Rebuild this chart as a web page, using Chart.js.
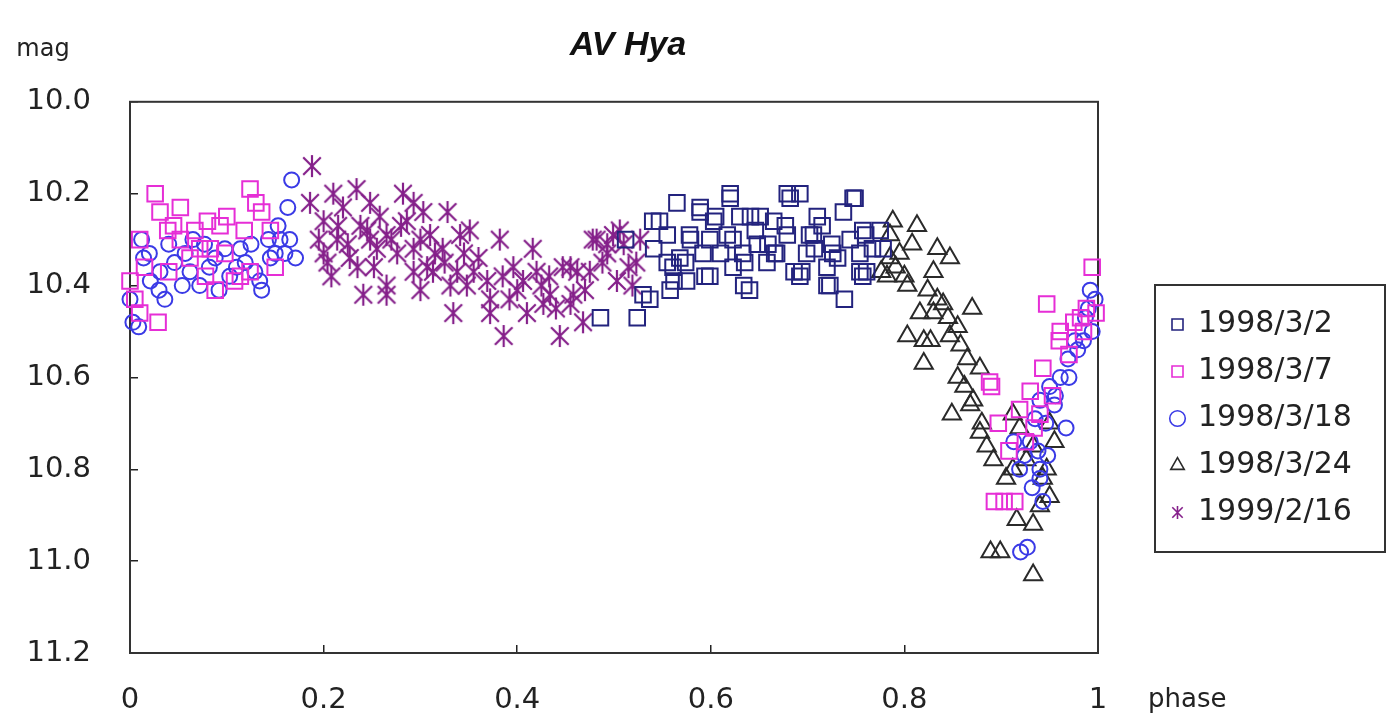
<!DOCTYPE html>
<html lang="ja">
<head>
<meta charset="UTF-8">
<title>AV Hya</title>
<script src="https://cdn.jsdelivr.net/npm/chart.js"></script>
<style>
  body { margin: 0; background: #fff; }
  canvas { display: block; }
</style>
</head>
<body>
<canvas id="lc" width="1397" height="725"></canvas>
<script>
// 凡例と目盛
const seriesNames = ["1998/3/2", "1998/3/7", "1998/3/18", "1998/3/24", "1999/2/16"];
const xTickValues = [0, 0.2, 0.4, 0.6, 0.8, 1];
const xTickLabels = ["0", "0.2", "0.4", "0.6", "0.8", "1"];
const yTickValues = [10.0, 10.2, 10.4, 10.6, 10.8, 11.0, 11.2];
const yTickLabels = ["10.0", "10.2", "10.4", "10.6", "10.8", "11.0", "11.2"];

// [phase, mag]
const d19980302 = [
  [0.486,10.47],[0.524,10.47],[0.512,10.30],[0.530,10.42],[0.541,10.32],[0.547,10.26],[0.555,10.35],[0.562,10.39],
  [0.574,10.35],[0.578,10.29],[0.589,10.23],[0.594,10.38],[0.599,10.30],[0.605,10.25],[0.610,10.33],[0.620,10.20],
  [0.623,10.30],[0.630,10.25],[0.635,10.35],[0.640,10.41],[0.646,10.28],[0.651,10.25],[0.659,10.31],[0.666,10.33],
  [0.677,10.27],[0.682,10.21],[0.692,10.20],[0.694,10.37],[0.702,10.29],[0.707,10.32],[0.715,10.27],[0.720,10.40],
  [0.725,10.31],[0.731,10.34],[0.738,10.43],[0.744,10.30],[0.749,10.21],[0.754,10.37],[0.760,10.29],[0.767,10.32],
  [0.775,10.28],[0.757,10.38],[0.565,10.22],[0.620,10.21],[0.679,10.20],[0.747,10.21],[0.540,10.26],[0.589,10.24],
  [0.603,10.26],[0.641,10.25],[0.665,10.26],[0.710,10.25],[0.737,10.24],[0.555,10.29],[0.579,10.30],[0.617,10.29],
  [0.648,10.31],[0.679,10.29],[0.706,10.29],[0.757,10.28],[0.778,10.32],[0.568,10.34],[0.592,10.33],[0.633,10.33],
  [0.668,10.33],[0.699,10.33],[0.726,10.33],[0.754,10.33],[0.561,10.36],[0.599,10.38],[0.623,10.36],[0.658,10.35],
  [0.686,10.37],[0.720,10.36],[0.761,10.37],[0.558,10.41],[0.575,10.39],[0.634,10.40],[0.692,10.38],[0.723,10.40],
  [0.537,10.43]
];
const d19980307 = [
  [0.000,10.39],[0.005,10.43],[0.010,10.30],[0.026,10.20],[0.031,10.24],[0.039,10.28],[0.052,10.30],[0.062,10.34],
  [0.072,10.32],[0.083,10.32],[0.098,10.33],[0.114,10.38],[0.124,10.37],[0.124,10.19],[0.136,10.24],[0.145,10.28],
  [0.150,10.36],[0.029,10.48],[0.010,10.46],[0.088,10.41],[0.108,10.39],[0.045,10.27],[0.067,10.28],[0.093,10.27],
  [0.015,10.36],[0.040,10.37],[0.130,10.22],[0.078,10.38],[0.118,10.28],[0.052,10.23],[0.100,10.25],[0.080,10.26],
  [0.888,10.61],[0.930,10.63],[0.953,10.64],[0.961,10.50],[0.975,10.48],[0.982,10.47],[0.988,10.45],[0.994,10.36],
  [0.947,10.44],[0.897,10.70],[0.893,10.87],[0.903,10.87],[0.914,10.87],[0.919,10.67],[0.934,10.71],[0.960,10.52],
  [0.943,10.58],[0.925,10.74],[0.970,10.55],[0.985,10.50],[0.908,10.76],[0.940,10.68],[0.890,10.62],[0.998,10.46]
];
const d19980318 = [
  [0.000,10.43],[0.003,10.48],[0.009,10.49],[0.012,10.30],[0.014,10.34],[0.021,10.39],[0.031,10.37],[0.036,10.43],
  [0.046,10.35],[0.054,10.40],[0.062,10.37],[0.072,10.40],[0.077,10.31],[0.088,10.34],[0.098,10.32],[0.103,10.38],
  [0.114,10.32],[0.119,10.35],[0.129,10.37],[0.134,10.39],[0.136,10.41],[0.143,10.30],[0.150,10.33],[0.153,10.27],
  [0.155,10.30],[0.163,10.23],[0.167,10.17],[0.165,10.30],[0.171,10.34],[0.160,10.33],[0.040,10.31],[0.065,10.30],
  [0.092,10.41],[0.110,10.36],[0.125,10.31],[0.145,10.34],[0.020,10.33],[0.082,10.36],[0.057,10.33],[0.030,10.41],
  [0.992,10.41],[0.997,10.43],[0.994,10.50],[0.987,10.47],[0.976,10.52],[0.979,10.54],[0.969,10.56],[0.961,10.60],
  [0.950,10.62],[0.956,10.64],[0.940,10.65],[0.935,10.69],[0.946,10.70],[0.967,10.71],[0.948,10.77],[0.930,10.74],
  [0.924,10.77],[0.940,10.82],[0.943,10.87],[0.940,10.80],[0.919,10.80],[0.913,10.74],[0.920,10.98],[0.927,10.97],
  [0.985,10.52],[0.970,10.60],[0.955,10.66],[0.932,10.84],[0.938,10.76],[0.990,10.45]
];
const d19980324 = [
  [0.788,10.26],[0.813,10.27],[0.785,10.29],[0.808,10.31],[0.834,10.32],[0.847,10.34],[0.785,10.34],[0.791,10.36],
  [0.782,10.38],[0.803,10.40],[0.830,10.37],[0.824,10.41],[0.834,10.43],[0.840,10.44],[0.870,10.45],[0.816,10.46],
  [0.845,10.47],[0.855,10.49],[0.803,10.51],[0.820,10.52],[0.827,10.52],[0.847,10.51],[0.858,10.53],[0.820,10.57],
  [0.865,10.56],[0.855,10.60],[0.878,10.58],[0.871,10.65],[0.849,10.68],[0.878,10.72],[0.885,10.75],[0.892,10.78],
  [0.912,10.68],[0.919,10.71],[0.933,10.75],[0.912,10.80],[0.947,10.80],[0.950,10.86],[0.916,10.91],[0.933,10.92],
  [0.889,10.98],[0.899,10.98],[0.933,11.03],[0.943,10.82],[0.926,10.78],[0.776,10.37],[0.795,10.33],[0.800,10.38],
  [0.830,10.46],[0.862,10.62],[0.868,10.66],[0.880,10.70],[0.905,10.82],[0.940,10.88],[0.955,10.74],[0.950,10.70]
];
const d19990216 = [
  [0.188,10.14],[0.186,10.22],[0.210,10.20],[0.234,10.19],[0.220,10.23],[0.200,10.26],[0.248,10.22],[0.238,10.27],
  [0.258,10.25],[0.282,10.20],[0.293,10.22],[0.303,10.24],[0.286,10.26],[0.265,10.29],[0.248,10.30],[0.214,10.30],
  [0.200,10.33],[0.204,10.35],[0.227,10.34],[0.276,10.33],[0.293,10.32],[0.310,10.29],[0.328,10.24],[0.341,10.29],
  [0.351,10.28],[0.323,10.32],[0.307,10.36],[0.293,10.37],[0.313,10.37],[0.338,10.37],[0.355,10.37],[0.369,10.39],
  [0.348,10.40],[0.331,10.40],[0.265,10.40],[0.241,10.42],[0.265,10.42],[0.372,10.43],[0.382,10.30],[0.416,10.32],
  [0.396,10.36],[0.406,10.39],[0.420,10.37],[0.433,10.38],[0.447,10.36],[0.462,10.37],[0.475,10.37],[0.482,10.30],
  [0.493,10.31],[0.499,10.29],[0.400,10.41],[0.427,10.44],[0.455,10.44],[0.468,10.48],[0.444,10.51],[0.386,10.51],
  [0.334,10.46],[0.410,10.46],[0.372,10.46],[0.478,10.30],[0.506,10.28],[0.493,10.33],[0.523,10.35],[0.519,10.40],
  [0.503,10.39],[0.455,10.36],[0.434,10.42],[0.458,10.42],[0.195,10.30],[0.215,10.27],[0.225,10.31],[0.245,10.28],
  [0.255,10.32],[0.270,10.30],[0.280,10.27],[0.300,10.30],[0.315,10.33],[0.325,10.35],[0.345,10.33],[0.360,10.34],
  [0.385,10.38],[0.392,10.43],[0.425,10.40],[0.440,10.45],[0.470,10.41],[0.488,10.35],[0.510,10.31],[0.515,10.36],
  [0.527,10.30],[0.235,10.36],[0.208,10.38],[0.300,10.41],[0.252,10.36]
];

const FONT = "'DejaVu Sans', sans-serif";
const TEXT = "#222";

// アスタリスク型マーカー
function makeAsterisk(size, color, lw) {
  const c = document.createElement("canvas");
  c.width = size; c.height = size;
  const g = c.getContext("2d");
  g.strokeStyle = color;
  g.lineWidth = lw;
  const m = size / 2, r = size / 2 - 1, d = r * 0.8;
  g.beginPath();
  g.moveTo(m, m - r); g.lineTo(m, m + r);
  g.moveTo(m - d, m - d); g.lineTo(m + d, m + d);
  g.moveTo(m + d, m - d); g.lineTo(m - d, m + d);
  g.stroke();
  return c;
}
const starColor = "#85208a";
const starBig = makeAsterisk(24, starColor, 2.2);
const starSmall = makeAsterisk(15, starColor, 1.6);

const toPts = arr => arr.map(p => ({ x: p[0], y: p[1] }));

function ds(label, data, style, color, radius) {
  return {
    label: label,
    data: toPts(data),
    pointStyle: style,
    borderColor: color,
    backgroundColor: "rgba(0,0,0,0)",
    pointRadius: radius,
    pointHoverRadius: radius,
    borderWidth: 2,
    clip: false
  };
}

const frame = {
  id: "frame",
  afterLayout(chart) {
    const a = chart.chartArea;
    const lg = chart.legend;
    lg.left = a.right + 57; lg.right = lg.left + 230; lg.width = 230;
    lg.top = 285; lg.bottom = 552; lg.height = 267;
    const tb = chart.titleBlock;
    tb.left = a.left; tb.right = a.right + 28; tb.width = tb.right - tb.left;
  },
  beforeDatasetsDraw(chart) {
    const { ctx, chartArea: a } = chart;
    ctx.save();
    ctx.strokeStyle = "#333";
    ctx.lineWidth = 2;
    ctx.strokeRect(a.left, a.top, a.right - a.left, a.bottom - a.top);
    ctx.restore();
  },
  afterDraw(chart) {
    const { ctx, chartArea: a } = chart;
    const lg = chart.legend;
    ctx.save();
    ctx.strokeStyle = "#333";
    ctx.lineWidth = 2;
    ctx.strokeRect(lg.left, lg.top, lg.width, lg.height);
    ctx.fillStyle = TEXT;
    ctx.textBaseline = "middle";
    ctx.font = "24px " + FONT;
    ctx.textAlign = "center";
    ctx.fillText("mag", 43, 50);
    ctx.font = "26px " + FONT;
    ctx.textAlign = "left";
    ctx.fillText("phase", a.right + 50, 700);
    ctx.restore();
  }
};

new Chart(document.getElementById("lc"), {
  type: "scatter",
  data: {
    datasets: [
      ds(seriesNames[0], d19980302, "rect", "#23237e", 11),
      ds(seriesNames[1], d19980307, "rect", "#e62ed6", 11),
      ds(seriesNames[2], d19980318, "circle", "#3a3ae6", 7.5),
      ds(seriesNames[3], d19980324, "triangle", "#2a2a2a", 10.5),
      ds(seriesNames[4], d19990216, starBig, starColor, 12)
    ]
  },
  options: {
    responsive: false,
    animation: false,
    layout: { padding: { top: 0, left: 0, right: 299, bottom: 0 } },
    plugins: {
      tooltip: { enabled: false },
      title: {
        display: true,
        text: "AV Hya",
        color: "#111",
        font: { family: "'Liberation Sans Narrow', 'Liberation Sans', sans-serif", size: 34, weight: "bold", style: "italic" },
        padding: { top: 25, bottom: 36 }
      },
      legend: {
        position: "chartArea",
        align: "center",
        labels: {
          usePointStyle: true,
          boxHeight: 11,
          boxWidth: 11,
          padding: 17,
          color: TEXT,
          font: { family: FONT, size: 30 },
          generateLabels(chart) {
            const items = Chart.defaults.plugins.legend.labels.generateLabels(chart);
            items.forEach(it => {
              it.lineWidth = 1.6;
              if (it.datasetIndex === 4) it.pointStyle = starSmall;
            });
            return items;
          }
        }
      }
    },
    scales: {
      x: {
        type: "linear",
        min: 0,
        max: 1,
        afterFit(s) { s.height = 72; },
        afterBuildTicks(s) { s.ticks = xTickValues.map(v => ({ value: v })); },
        ticks: {
          color: TEXT,
          font: { family: FONT, size: 29 },
          padding: 38,
          maxRotation: 0,
          callback: (v, i) => xTickLabels[i]
        },
        grid: { drawOnChartArea: false, tickLength: -8, color: "#222", lineWidth: 1.5 },
        border: { display: false }
      },
      y: {
        type: "linear",
        reverse: true,
        min: 10.0,
        max: 11.2,
        afterFit(s) { s.width = 130; },
        afterBuildTicks(s) { s.ticks = yTickValues.map(v => ({ value: v })); },
        ticks: {
          color: TEXT,
          font: { family: FONT, size: 29 },
          padding: 47,
          callback: (v, i) => yTickLabels[i]
        },
        grid: { drawOnChartArea: false, tickLength: -8, color: "#222", lineWidth: 1.5 },
        border: { display: false }
      }
    }
  },
  plugins: [frame]
});
</script>
</body>
</html>
